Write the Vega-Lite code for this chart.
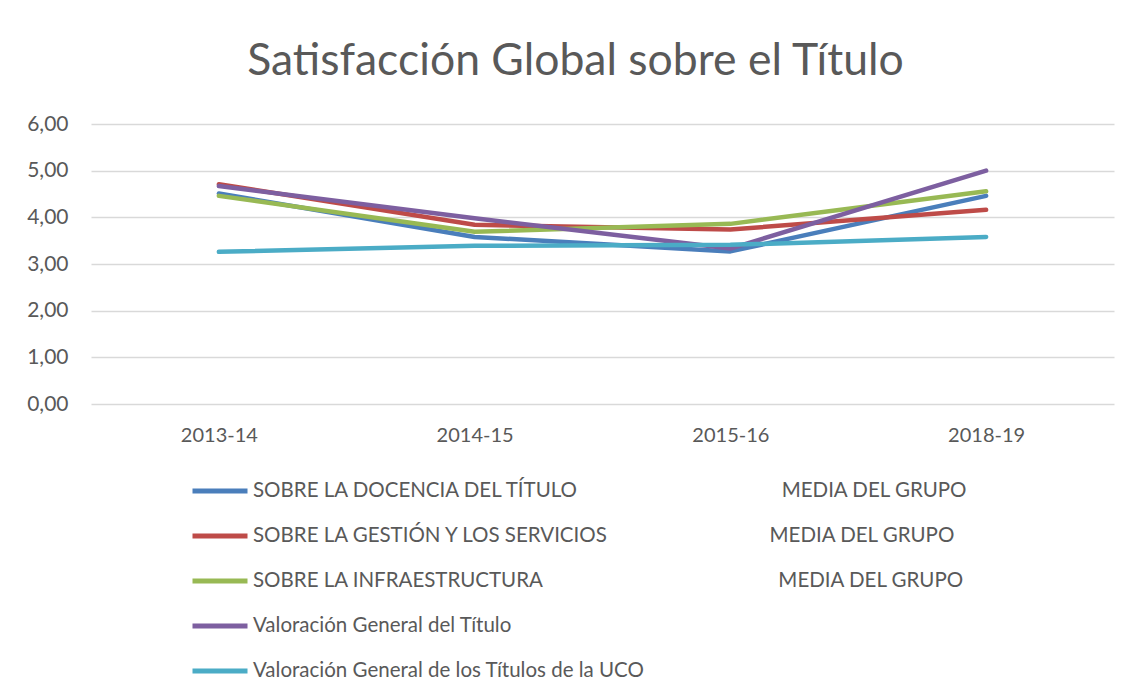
{
  "$schema": "https://vega.github.io/schema/vega-lite/v6.json",
  "autosize": {"type": "none"},
  "width": 1023,
  "height": 280,
  "padding": {"left": 91, "top": 124, "right": 16, "bottom": 293},
  "background": "white",
  "title": {
    "text": "Satisfacción Global sobre el Título",
    "font": "Lato",
    "fontSize": 44.5,
    "fontWeight": "normal",
    "color": "#595959",
    "anchor": "middle",
    "frame": "group",
    "dx": -27,
    "offset": 29
  },
  "data": {
    "values": [
      {"curso": "2013-14", "serie": "SOBRE LA DOCENCIA DEL TÍTULO", "valor": 4.51},
      {"curso": "2014-15", "serie": "SOBRE LA DOCENCIA DEL TÍTULO", "valor": 3.58},
      {"curso": "2015-16", "serie": "SOBRE LA DOCENCIA DEL TÍTULO", "valor": 3.27},
      {"curso": "2018-19", "serie": "SOBRE LA DOCENCIA DEL TÍTULO", "valor": 4.46},
      {"curso": "2013-14", "serie": "SOBRE LA GESTIÓN Y LOS SERVICIOS", "valor": 4.71},
      {"curso": "2014-15", "serie": "SOBRE LA GESTIÓN Y LOS SERVICIOS", "valor": 3.84},
      {"curso": "2015-16", "serie": "SOBRE LA GESTIÓN Y LOS SERVICIOS", "valor": 3.74},
      {"curso": "2018-19", "serie": "SOBRE LA GESTIÓN Y LOS SERVICIOS", "valor": 4.16},
      {"curso": "2013-14", "serie": "SOBRE LA INFRAESTRUCTURA", "valor": 4.46},
      {"curso": "2014-15", "serie": "SOBRE LA INFRAESTRUCTURA", "valor": 3.69},
      {"curso": "2015-16", "serie": "SOBRE LA INFRAESTRUCTURA", "valor": 3.86},
      {"curso": "2018-19", "serie": "SOBRE LA INFRAESTRUCTURA", "valor": 4.56},
      {"curso": "2013-14", "serie": "Valoración General del Título", "valor": 4.67},
      {"curso": "2014-15", "serie": "Valoración General del Título", "valor": 3.98},
      {"curso": "2015-16", "serie": "Valoración General del Título", "valor": 3.33},
      {"curso": "2018-19", "serie": "Valoración General del Título", "valor": 5.0},
      {"curso": "2013-14", "serie": "Valoración General de los Títulos de la UCO", "valor": 3.26},
      {"curso": "2014-15", "serie": "Valoración General de los Títulos de la UCO", "valor": 3.39},
      {"curso": "2015-16", "serie": "Valoración General de los Títulos de la UCO", "valor": 3.41},
      {"curso": "2018-19", "serie": "Valoración General de los Títulos de la UCO", "valor": 3.58}
    ]
  },
  "mark": {"type": "line", "strokeWidth": 4.5, "strokeCap": "round", "strokeJoin": "round"},
  "encoding": {
    "x": {
      "field": "curso",
      "type": "nominal",
      "sort": null,
      "scale": {"type": "point", "padding": 0.5},
      "axis": {
        "title": null,
        "labelAngle": 0,
        "domain": false,
        "ticks": false,
        "grid": false,
        "labelFont": "Lato",
        "labelFontSize": 20,
        "labelColor": "#595959",
        "labelPadding": 21
      }
    },
    "y": {
      "field": "valor",
      "type": "quantitative",
      "scale": {"domain": [0, 6], "nice": false, "zero": true},
      "axis": {
        "title": null,
        "values": [0, 1, 2, 3, 4, 5, 6],
        "labelExpr": "replace(format(datum.value, '.2f'), '.', ',')",
        "domain": false,
        "ticks": false,
        "grid": true,
        "gridColor": "#D9D9D9",
        "gridWidth": 1.5,
        "labelFont": "Lato",
        "labelFontSize": 21,
        "labelColor": "#595959",
        "labelPadding": 23
      }
    },
    "color": {
      "field": "serie",
      "type": "nominal",
      "scale": {
        "domain": [
          "SOBRE LA DOCENCIA DEL TÍTULO",
          "SOBRE LA GESTIÓN Y LOS SERVICIOS",
          "SOBRE LA INFRAESTRUCTURA",
          "Valoración General del Título",
          "Valoración General de los Títulos de la UCO"
        ],
        "range": ["#4A7EBB", "#BE4B48", "#98B954", "#7D5FA0", "#4BACC6"]
      },
      "legend": {
        "title": null,
        "orient": "none",
        "legendX": 99,
        "legendY": 337,
        "direction": "vertical",
        "symbolType": "stroke",
        "symbolSize": 3025,
        "symbolStrokeWidth": 5,
        "labelOffset": 3,
        "labelFont": "Lato",
        "labelFontSize": 20.5,
        "labelColor": "#595959",
        "labelLimit": 0,
        "rowPadding": 4,
        "labelExpr": "datum.label == 'SOBRE LA DOCENCIA DEL TÍTULO' ? datum.label + '\u00a0\u00a0\u00a0\u00a0\u00a0\u00a0\u00a0\u00a0\u00a0\u00a0\u00a0\u00a0\u00a0\u00a0\u00a0\u00a0\u00a0\u00a0\u00a0\u00a0\u00a0\u00a0\u00a0\u00a0\u00a0\u00a0\u00a0\u00a0\u00a0\u00a0\u00a0\u00a0\u00a0\u00a0\u00a0\u00a0\u00a0\u00a0\u00a0MEDIA DEL GRUPO' : datum.label == 'SOBRE LA GESTIÓN Y LOS SERVICIOS' ? datum.label + '\u00a0\u00a0\u00a0\u00a0\u00a0\u00a0\u00a0\u00a0\u00a0\u00a0\u00a0\u00a0\u00a0\u00a0\u00a0\u00a0\u00a0\u00a0\u00a0\u00a0\u00a0\u00a0\u00a0\u00a0\u00a0\u00a0\u00a0\u00a0\u00a0\u00a0\u00a0MEDIA DEL GRUPO' : datum.label == 'SOBRE LA INFRAESTRUCTURA' ? datum.label + '\u00a0\u00a0\u00a0\u00a0\u00a0\u00a0\u00a0\u00a0\u00a0\u00a0\u00a0\u00a0\u00a0\u00a0\u00a0\u00a0\u00a0\u00a0\u00a0\u00a0\u00a0\u00a0\u00a0\u00a0\u00a0\u00a0\u00a0\u00a0\u00a0\u00a0\u00a0\u00a0\u00a0\u00a0\u00a0\u00a0\u00a0\u00a0\u00a0\u00a0\u00a0\u00a0\u00a0\u00a0\u00a0MEDIA DEL GRUPO' : datum.label"
      }
    }
  },
  "config": {
    "view": {"stroke": null}
  }
}
